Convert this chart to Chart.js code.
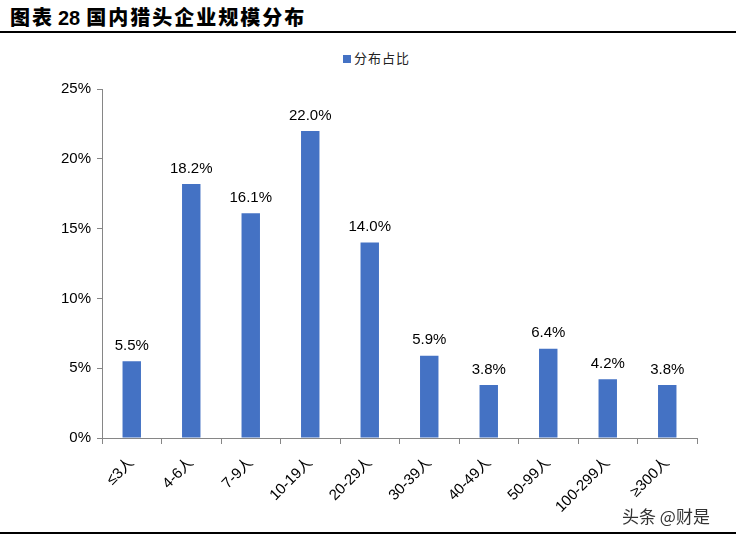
<!DOCTYPE html>
<html>
<head>
<meta charset="utf-8">
<script src="https://cdn.jsdelivr.net/npm/chart.js@4/dist/chart.umd.min.js"></script>
<style>
  html, body { margin: 0; padding: 0; background: #fff; }
  body { width: 736px; height: 538px; position: relative; overflow: hidden; font-family: "Noto Sans CJK SC", sans-serif; }
  #title { position: absolute; left: 10px; top: 2px; font-size: 20px; font-weight: 900; color: #000; letter-spacing: 2px; }
  #title .num { font-family: "Liberation Sans", Arial, sans-serif; font-weight: 700; margin: 0 6px 0 4px; letter-spacing: 0; }
  #topline { position: absolute; left: 0; right: 0; top: 31px; border-top: 2px solid #000; }
  #bottomline { position: absolute; left: 0; right: 0; top: 532px; border-top: 2px solid #000; }
  #legend { position: absolute; left: 343px; top: 48px; font-size: 13px; color: #222; letter-spacing: 1px; }
  #legend span.box { display: inline-block; width: 8px; height: 8px; background: #4472C4; margin-right: 3px; }
  #wrap { position: absolute; left: 0; top: 34px; width: 736px; height: 496px; }
  #mark { position: absolute; left: 622px; top: 503px; font-size: 17px; color: #333; }
</style>
</head>
<body>
<div id="title">图表<span class="num">28</span>国内猎头企业规模分布</div>
<div id="topline"></div>
<div id="legend"><span class="box"></span>分布占比</div>
<div id="wrap"><canvas id="chart"></canvas></div>
<div id="mark">头条 @财是</div>
<div id="bottomline"></div>
<script>
// categories and values
const categories = ['≤3人', '4-6人', '7-9人', '10-19人', '20-29人', '30-39人', '40-49人', '50-99人', '100-299人', '≥300人'];
const shares = [5.5, 18.2, 16.1, 22.0, 14.0, 5.9, 3.8, 6.4, 4.2, 3.8];
const yTicks = [0, 5, 10, 15, 20, 25];

// draw value labels above each bar
const valueLabels = {
    id: 'valueLabels',
    afterDatasetsDraw(chart) {
        const ctx = chart.ctx;
        const meta = chart.getDatasetMeta(0);
        ctx.save();
        ctx.font = '15px "Liberation Sans", Arial, sans-serif';
        ctx.fillStyle = '#000';
        ctx.textAlign = 'center';
        ctx.textBaseline = 'bottom';
        meta.data.forEach(function (bar, i) {
            ctx.fillText(shares[i].toFixed(1) + '%', bar.x, bar.y - 8);
        });
        ctx.restore();
    }
};

const ctx = document.getElementById('chart').getContext('2d');
new Chart(ctx, {
    type: 'bar',
    data: {
        labels: categories,
        datasets: [{
            label: '分布占比',
            data: shares,
            backgroundColor: '#4472C4',
            categoryPercentage: 1,
            barPercentage: 0.31
        }]
    },
    options: {
        responsive: true,
        maintainAspectRatio: false,
        animation: false,
        layout: { padding: { top: 55, right: 39, left: 0, bottom: 0 } },
        plugins: {
            legend: { display: false },
            tooltip: { enabled: false }
        },
        scales: {
            x: {
                grid: { display: true, drawOnChartArea: false, drawTicks: true, tickLength: 6, color: '#868686', offset: true },
                border: { color: '#868686', width: 1 },
                ticks: {
                    color: '#000',
                    font: { family: '"Liberation Sans", Arial, "Noto Sans CJK SC", sans-serif', size: 15 },
                    minRotation: 45,
                    maxRotation: 45,
                    padding: 10
                },
                afterFit(scale) { scale.height = 92; }
            },
            y: {
                min: 0,
                max: 25,
                afterBuildTicks(scale) { scale.ticks = yTicks.map(v => ({ value: v })); },
                grid: { display: true, drawOnChartArea: false, drawTicks: true, tickLength: 5, color: '#868686' },
                border: { color: '#868686', width: 1 },
                ticks: {
                    color: '#000',
                    font: { family: '"Liberation Sans", Arial, sans-serif', size: 15 },
                    padding: 6,
                    callback: v => v + '%'
                },
                afterFit(scale) { scale.width = 102; }
            }
        }
    },
    plugins: [valueLabels]
});
</script>
</body>
</html>
